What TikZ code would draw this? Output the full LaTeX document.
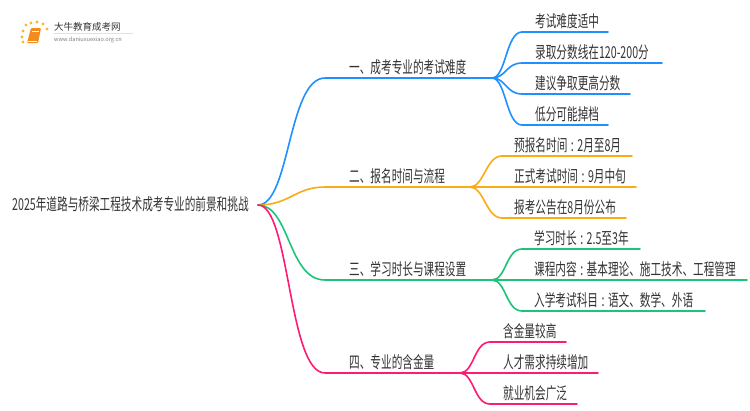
\documentclass[tikz,border=0pt]{standalone}
\usepackage{fontspec}
\setmainfont{Noto Sans CJK SC}[FakeStretch=0.645]
\newfontfamily\logofont{Noto Sans CJK SC}
\usepackage{xcolor}
\usetikzlibrary{calc}
\definecolor{mapblue}{HTML}{1E90FF}
\definecolor{maporange}{HTML}{FAAB16}
\definecolor{mapgreen}{HTML}{1CC47A}
\definecolor{mappink}{HTML}{FF1A75}
\definecolor{maptext}{HTML}{333333}
\definecolor{logogold}{HTML}{F7B733}
\definecolor{logobook}{HTML}{F28C1E}
\tikzset{
  edge/.style={line width=1.6, line cap=round},
  label/.style={anchor=base west, inner sep=0pt, text=maptext, font=\fontsize{16.5}{16.5}\selectfont},
}
% curve from a fork to the start of an underline
\newcommand{\fork}[3]{\draw[edge,#1] (#2) .. controls ($(#2)+(14,0)$) and ($(#3)+(-16,0)$) .. (#3);}
\newcommand{\gap}{\hspace{3.5pt}:\hspace{3.5pt}}

\begin{document}
\begin{tikzpicture}[x=1pt,y=-1pt]
\useasboundingbox (0,0) rectangle (750,410);
\fill[white] (0,0) rectangle (750,410);

% logo
\fill[logobook,rounded corners=1] (31,28) -- (41,28) -- (38,43) -- (27,43) -- cycle;
\draw[white,line width=0.5] (32,31) -- (39,31);
\draw[white,line width=0.5] (28,41) -- (37,41);
\foreach \px/\py in {23/31, 26/25, 31/23, 37/22, 43/24, 47/29, 22/37, 23/42}{
  \fill[logogold] (\px,\py) circle (1.6);
}
\node[label,font=\logofont\fontsize{9.5}{9.5}\selectfont] (LogoName) at (54,30.5) {大牛教育成考网};
\node[label,text=gray,font=\logofont\fontsize{5.6}{5.6}\selectfont] (LogoSite) at (54,41) {www.daniuxuexiao.org.cn};
\draw[black!12,line width=0.5] (54,33.5) -- (133,33.5);

% root
\node[label] (Root) at (12,210.5) {2025年道路与桥梁工程技术成考专业的前景和挑战};
\coordinate (R) at (258,205);

% first level
\coordinate (A0) at (325,78);  \coordinate (A1) at (492,78);
\coordinate (B0) at (325,187); \coordinate (B1) at (470,187);
\coordinate (C0) at (325,280); \coordinate (C1) at (492,280);
\coordinate (D0) at (325,373); \coordinate (D1) at (460,373);

\node[label] (A) at (349,73) {一、成考专业的考试难度};
\node[label] (B) at (349,182) {二、报名时间与流程};
\node[label] (C) at (349,275) {三、学习时长与课程设置};
\node[label] (D) at (349,368) {四、专业的含金量};

\draw[edge,mapblue] (R) .. controls (290,205) and (288,78) .. (A0) -- (A1);
\draw[edge,maporange] (R) .. controls (290,205) and (295,187) .. (B0) -- (B1);
\draw[edge,mapgreen] (R) .. controls (290,205) and (288,280) .. (C0) -- (C1);
\draw[edge,mappink] (R) .. controls (290,205) and (288,373) .. (D0) -- (D1);

% second level
\foreach \lx/\ly/\lend/\txt [count=\n] in {
  522/32/608/考试难度适中,
  522/63/662/录取分数线在120-200分,
  522/94/630/建议争取更高分数,
  522/125/608/低分可能掉档}{
  \coordinate (AS\n) at (\lx,\ly);
  \coordinate (AE\n) at (\lend,\ly);
  \node[label] (AT\n) at ($(AS\n)+(13,-5)$) {\txt};
  \fork{mapblue}{A1}{AS\n}
  \draw[edge,mapblue] (AS\n) -- (AE\n);
}
\foreach \lx/\ly/\lend/\txt [count=\n] in {
  502/156/632/预报名时间\gap 2月至8月,
  502/187/636/正式考试时间\gap 9月中旬,
  502/218/626/报考公告在8月份公布}{
  \coordinate (BS\n) at (\lx,\ly);
  \coordinate (BE\n) at (\lend,\ly);
  \node[label] (BT\n) at ($(BS\n)+(12,-5)$) {\txt};
  \fork{maporange}{B1}{BS\n}
  \draw[edge,maporange] (BS\n) -- (BE\n);
}
\foreach \lx/\ly/\lend/\txt [count=\n] in {
  522/249/640/学习时长\gap 2.5至3年,
  522/280/747/课程内容\gap 基本理论、施工技术、工程管理,
  522/311/705/入学考试科目\gap 语文、数学、外语}{
  \coordinate (CS\n) at (\lx,\ly);
  \coordinate (CE\n) at (\lend,\ly);
  \node[label] (CT\n) at ($(CS\n)+(12,-5)$) {\txt};
  \fork{mapgreen}{C1}{CS\n}
  \draw[edge,mapgreen] (CS\n) -- (CE\n);
}
\foreach \lx/\ly/\lend/\txt [count=\n] in {
  490/342/566/含金量较高,
  490/373/598/人才需求持续增加,
  490/404/577/就业机会广泛}{
  \coordinate (DS\n) at (\lx,\ly);
  \coordinate (DE\n) at (\lend,\ly);
  \node[label] (DT\n) at ($(DS\n)+(13,-5)$) {\txt};
  \fork{mappink}{D1}{DS\n}
  \draw[edge,mappink] (DS\n) -- (DE\n);
}
\end{tikzpicture}
\end{document}
